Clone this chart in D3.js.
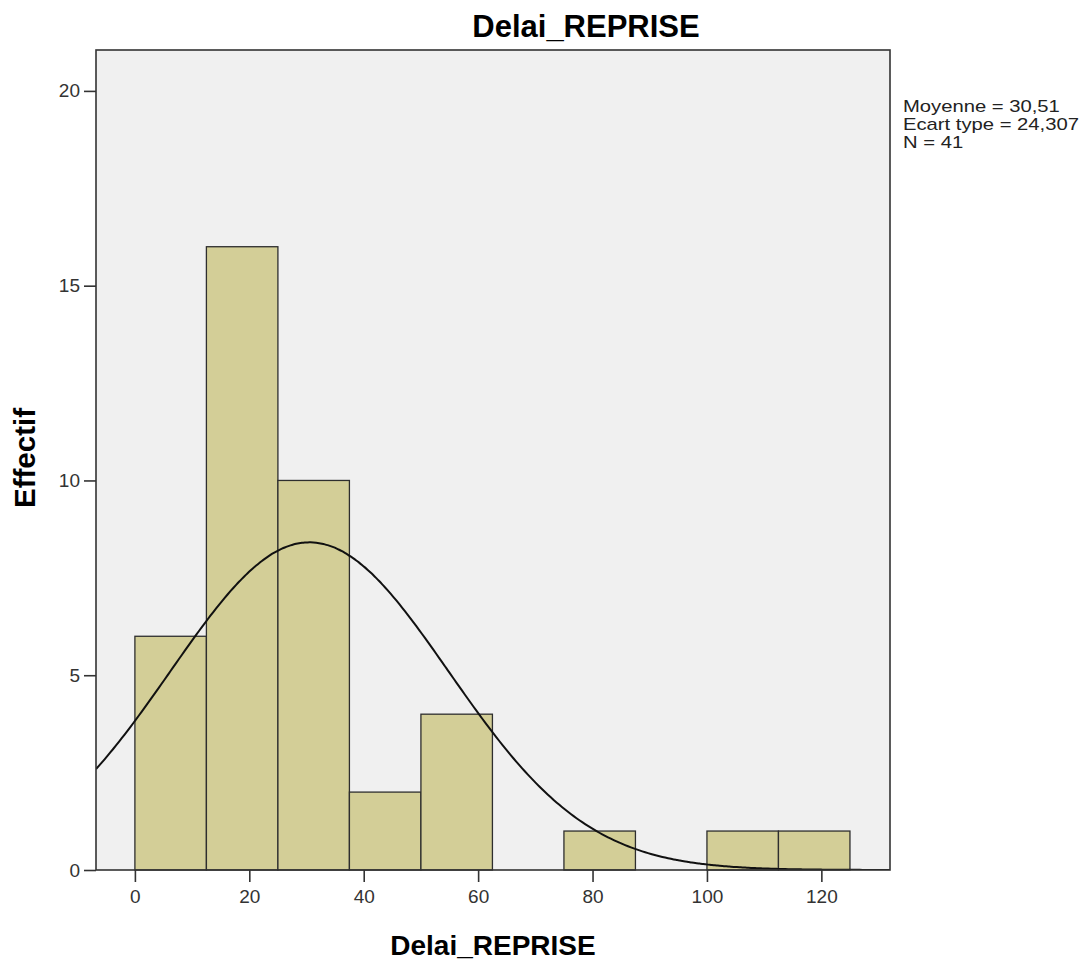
<!DOCTYPE html>
<html>
<head>
<meta charset="utf-8">
<script src="https://cdn.jsdelivr.net/npm/d3@7"></script>
<style>
  body { margin: 0; background: #fff; }
  text { font-family: "Liberation Sans", Arial, sans-serif; }
</style>
</head>
<body>
<svg id="chart" width="1088" height="965"></svg>
<script>
// histogram bins (lower edge, upper edge) and counts
var binLow = [0, 12.5, 25, 37.5, 50, 62.5, 75, 87.5, 100, 112.5];
var binHigh = [12.5, 25, 37.5, 50, 62.5, 75, 87.5, 100, 112.5, 125];
var counts = [6, 16, 10, 2, 4, 0, 1, 0, 1, 1];

var xTicks = [0, 20, 40, 60, 80, 100, 120];
var yTicks = [0, 5, 10, 15, 20];

var statMean = 30.51;
var statSd = 24.307;
var statN = 41;
var legendLines = ["Moyenne = 30,51", "Ecart type = 24,307", "N = 41"];

var chartTitle = "Delai_REPRISE";
var xLabel = "Delai_REPRISE";
var yLabel = "Effectif";

var plot = { left: 96, right: 890, top: 50, bottom: 870 };

var svg = d3.select("#chart");

var x = d3.scaleLinear().domain([-6.8, 132]).range([plot.left, plot.right]);
var y = d3.scaleLinear().domain([0, 21.05]).range([plot.bottom, plot.top]);

svg.append("defs").append("clipPath").attr("id", "clip")
    .append("rect")
    .attr("x", plot.left).attr("y", plot.top)
    .attr("width", plot.right - plot.left).attr("height", plot.bottom - plot.top);

// plot background
svg.append("rect")
    .attr("x", plot.left).attr("y", plot.top)
    .attr("width", plot.right - plot.left).attr("height", plot.bottom - plot.top)
    .attr("fill", "#f0f0f0");

// bars
var bins = counts.map((c, i) => ({ lo: binLow[i], hi: binHigh[i], n: c })).filter(d => d.n > 0);
svg.append("g").selectAll("rect").data(bins).join("rect")
    .attr("x", d => x(d.lo))
    .attr("y", d => y(d.n))
    .attr("width", d => x(d.hi) - x(d.lo))
    .attr("height", d => y(0) - y(d.n))
    .attr("fill", "#d3ce97")
    .attr("stroke", "#2e2e2e")
    .attr("stroke-width", 1.3);

// fitted normal curve, scaled to count per bin
var binWidth = binHigh[0] - binLow[0];
var curvePts = d3.range(x.domain()[0], x.domain()[1] + 0.5, 0.5).map(v => {
    var z = (v - statMean) / statSd;
    return [v, statN * binWidth * Math.exp(-0.5 * z * z) / (statSd * Math.sqrt(2 * Math.PI))];
});
svg.append("path")
    .datum(curvePts)
    .attr("clip-path", "url(#clip)")
    .attr("fill", "none")
    .attr("stroke", "#111")
    .attr("stroke-width", 2)
    .attr("d", d3.line().x(d => x(d[0])).y(d => y(d[1])).curve(d3.curveBasis));

// frame
svg.append("rect")
    .attr("x", plot.left).attr("y", plot.top)
    .attr("width", plot.right - plot.left).attr("height", plot.bottom - plot.top)
    .attr("fill", "none")
    .attr("stroke", "#333")
    .attr("stroke-width", 1.6);

// axes
var xAxis = svg.append("g")
    .attr("transform", `translate(0,${plot.bottom})`)
    .call(d3.axisBottom(x).tickValues(xTicks).tickSize(12).tickPadding(8).tickFormat(d3.format("d")));
var yAxis = svg.append("g")
    .attr("transform", `translate(${plot.left},0)`)
    .call(d3.axisLeft(y).tickValues(yTicks).tickSize(12).tickPadding(4).tickFormat(d3.format("d")));

[xAxis, yAxis].forEach(g => {
    g.select(".domain").remove();
    g.selectAll(".tick line").attr("stroke", "#333").attr("stroke-width", 1.6);
    g.selectAll(".tick text")
        .attr("fill", "#333")
        .style("font-size", "19px")
        .style("font-family", "'Liberation Sans', Arial, sans-serif");
});

// titles
svg.append("text")
    .attr("x", 586).attr("y", 37)
    .attr("text-anchor", "middle")
    .style("font-size", "31px").style("font-weight", "bold")
    .text(chartTitle);

svg.append("text")
    .attr("x", (plot.left + plot.right) / 2).attr("y", 955)
    .attr("text-anchor", "middle")
    .style("font-size", "28px").style("font-weight", "bold")
    .text(xLabel);

svg.append("text")
    .attr("transform", "translate(35,458) rotate(-90)")
    .attr("text-anchor", "middle")
    .attr("textLength", 100)
    .attr("lengthAdjust", "spacingAndGlyphs")
    .style("font-size", "29px").style("font-weight", "bold")
    .text(yLabel);

// stats legend (narrow line spacing, wide glyphs as in the source)
svg.append("g")
    .attr("transform", "translate(903,0) scale(1.19,1)")
    .selectAll("text").data(legendLines).join("text")
    .attr("x", 0)
    .attr("y", (d, i) => 112 + i * 18)
    .attr("fill", "#222")
    .style("font-size", "17px")
    .text(d => d);
</script>
</body>
</html>
